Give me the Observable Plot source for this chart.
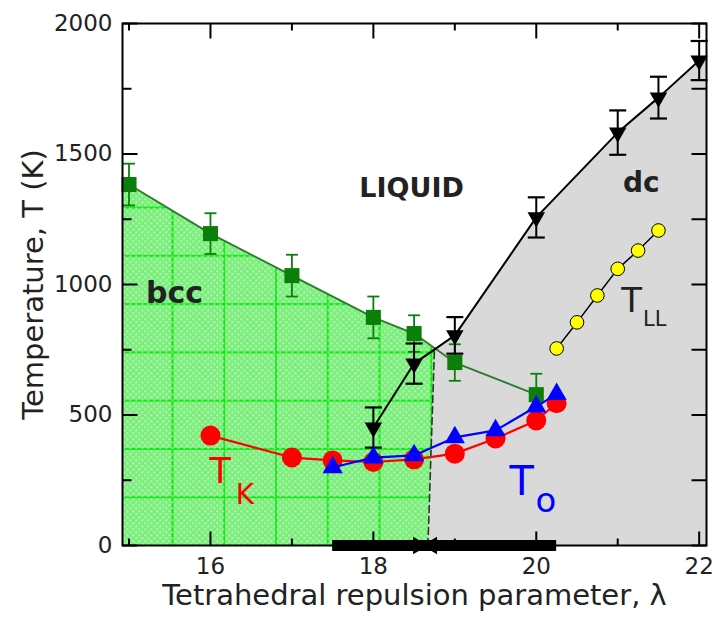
<!DOCTYPE html>
<html><head><meta charset="utf-8">
<script src="https://cdn.jsdelivr.net/npm/d3@7"></script>
<script src="https://cdn.jsdelivr.net/npm/@observablehq/plot@0.6"></script>
<style>body{margin:0;background:#fff;} svg{display:block;}</style>
</head><body><div id="chart"></div>
<script>
// ---- data ----
// bcc melting line (green squares)
const bccX = [15, 16, 17, 18, 18.5, 19, 20];
const bccT = [1383, 1195, 1034, 874, 812, 701, 578];
const bccErr = [80, 78, 80, 80, 70, 70, 80];
// dc melting line (black down-triangles)
const dcX = [18, 18.5, 19, 20, 21, 21.5, 22];
const dcT = [452, 697, 805, 1257, 1582, 1716, 1858];
const dcErr = [77, 77, 70, 77, 85, 80, 75];
// Kauzmann temperature T_K (red circles)
const tkX = [16, 17, 17.5, 18, 18.5, 19, 19.5, 20, 20.25];
const tkT = [421, 337, 326, 320, 330, 352, 410, 479, 545];
// T_o (blue triangles)
const toX = [17.5, 18, 18.5, 19, 19.5, 20, 20.25];
const toT = [299, 337, 345, 414, 441, 532, 580];
// liquid-liquid transition T_LL (yellow circles)
const tllX = [20.25, 20.5, 20.75, 21, 21.25, 21.5];
const tllT = [755, 855, 958, 1060, 1130, 1207];
// bcc/dc phase boundary (dashed), from T = 0 to the triple point
const boundaryX = [18.67, 18.75];
const boundaryT = [0, 754];
// glass-forming range marked on the lambda axis
const glassRange = [17.5, 20.25];
const glassMark = [18.55, 18.72];
// axes
const xDomain = [14.92, 22.09];
const yDomain = [0, 2000];
const xLabels = [16, 18, 20, 22];
const xMinor = [15, 17, 19, 21];
const yLabels = [0, 500, 1000, 1500, 2000];
const yMinor = [250, 750, 1250, 1750];
// region labels
const regionLabels = [
  {t: "LIQUID", x: 18.47, y: 1368, size: 27},
  {t: "bcc", x: 15.56, y: 966, size: 30},
  {t: "dc", x: 21.29, y: 1387, size: 28}
];

// ---- build tables ----
const bcc = bccX.map((x, i) => ({x, T: bccT[i], lo: bccT[i] - bccErr[i], hi: bccT[i] + bccErr[i]}));
const dc = dcX.map((x, i) => ({x, T: dcT[i], lo: dcT[i] - dcErr[i], hi: dcT[i] + dcErr[i]}));
const tk = tkX.map((x, i) => ({x, T: tkT[i]}));
const to = toX.map((x, i) => ({x, T: toT[i]}));
const tll = tllX.map((x, i) => ({x, T: tllT[i]}));
const boundary = boundaryX.map((x, i) => ({x, T: boundaryT[i]}));
const triple = boundary[boundary.length - 1];

// bcc region: left edge, bcc melting line up to the triple point, dashed boundary
const bccPoly = [
  {x: xDomain[0], T: 0},
  {x: xDomain[0], T: bccT[0] + (bccT[0] - bccT[1]) * (bccX[0] - xDomain[0])},
  ...bcc.filter(d => d.x < triple.x).map(d => ({x: d.x, T: d.T})),
  triple,
  boundary[0]
];
// dc region: dashed boundary, dc melting line, right edge
const dcPoly = [
  boundary[0],
  triple,
  ...dc.filter(d => d.x > triple.x).map(d => ({x: d.x, T: d.T})),
  {x: xDomain[1], T: dcT[dcT.length - 1] + (dcT[6] - dcT[5]) / (dcX[6] - dcX[5]) * (xDomain[1] - dcX[6])},
  {x: xDomain[1], T: 0}
];

// ---- custom symbols ----
const vTick = len => ({draw(ctx) { ctx.moveTo(0, 0); ctx.lineTo(0, len); }});
const hTick = len => ({draw(ctx) { ctx.moveTo(0, 0); ctx.lineTo(len, 0); }});
const cap = w => ({draw(ctx) { ctx.moveTo(-w, 0); ctx.lineTo(w, 0); }});

const green = "#0a800a";
const font = "'DejaVu Sans', 'Liberation Sans', Arial, sans-serif";

const chart = Plot.plot({
  width: 715, height: 628,
  marginLeft: 122, marginRight: 9, marginTop: 23, marginBottom: 83,
  x: {domain: xDomain, axis: null},
  y: {domain: yDomain, axis: null},
  style: {fontFamily: font, background: "white", color: "black"},
  marks: [
    // phase regions
    Plot.line(dcPoly, {x: "x", y: "T", fill: "#d9d9d9", stroke: "none"}),
    Plot.line(bccPoly, {x: "x", y: "T", fill: "url(#bccGrid)", stroke: "none"}),
    Plot.line(bccPoly, {x: "x", y: "T", fill: "url(#bccDots)", stroke: "none"}),
    Plot.line(boundary, {x: "x", y: "T", stroke: "#333", strokeWidth: 1.6, strokeDasharray: "7,4"}),
    // bcc melting
    Plot.line(bcc, {x: "x", y: "T", stroke: "#2d7a2d", strokeWidth: 1.8}),
    Plot.ruleX(bcc, {x: "x", y1: "lo", y2: "hi", stroke: green, strokeWidth: 1.8}),
    Plot.dot(bcc, {x: "x", y: "lo", symbol: cap(6), stroke: green, strokeWidth: 1.8, fill: "none"}),
    Plot.dot(bcc, {x: "x", y: "hi", symbol: cap(6), stroke: green, strokeWidth: 1.8, fill: "none"}),
    Plot.dot(bcc, {x: "x", y: "T", symbol: "square", r: 8.5, fill: green, stroke: "none"}),
    // dc melting
    Plot.line(dc, {x: "x", y: "T", stroke: "black", strokeWidth: 2}),
    Plot.ruleX(dc, {x: "x", y1: "lo", y2: "hi", stroke: "black", strokeWidth: 2}),
    Plot.dot(dc, {x: "x", y: "lo", symbol: cap(8.5), stroke: "black", strokeWidth: 2.2, fill: "none"}),
    Plot.dot(dc, {x: "x", y: "hi", symbol: cap(8.5), stroke: "black", strokeWidth: 2.2, fill: "none"}),
    Plot.dot(dc, {x: "x", y: "T", symbol: "triangle", rotate: 180, r: 6.5, fill: "black", stroke: "none"}),
    // T_K
    Plot.line(tk, {x: "x", y: "T", stroke: "#ff0000", strokeWidth: 2.2}),
    Plot.dot(tk, {x: "x", y: "T", r: 10, fill: "#ff0000", stroke: "none"}),
    // T_o
    Plot.line(to, {x: "x", y: "T", stroke: "#0000ff", strokeWidth: 2.2}),
    Plot.dot(to, {x: "x", y: "T", symbol: "triangle", r: 7.5, fill: "#0000ff", stroke: "none"}),
    // T_LL
    Plot.line(tll, {x: "x", y: "T", stroke: "black", strokeWidth: 1.5}),
    Plot.dot(tll, {x: "x", y: "T", r: 6.8, fill: "#ffff00", stroke: "black", strokeWidth: 1}),
    // glass-forming range bar
    Plot.ruleY([0], {x1: glassRange[0], x2: glassRange[1], y: d => d, stroke: "black", strokeWidth: 11}),
    Plot.dot(glassMark, {x: d => d, frameAnchor: "bottom", symbol: "triangle", rotate: (d, i) => i === 0 ? 90 : -90, r: 6.5, fill: "black"}),
    // frame and ticks
    Plot.frame({stroke: "black", strokeWidth: 2}),
    Plot.dot(xLabels, {x: d => d, frameAnchor: "bottom", symbol: vTick(-14), stroke: "black", strokeWidth: 2, fill: "none"}),
    Plot.dot(xMinor, {x: d => d, frameAnchor: "bottom", symbol: vTick(-7), stroke: "black", strokeWidth: 2, fill: "none"}),
    Plot.dot(xLabels, {x: d => d, frameAnchor: "top", symbol: vTick(15), stroke: "black", strokeWidth: 2, fill: "none"}),
    Plot.dot(xMinor, {x: d => d, frameAnchor: "top", symbol: vTick(7), stroke: "black", strokeWidth: 2, fill: "none"}),
    Plot.dot(yLabels, {y: d => d, frameAnchor: "left", symbol: hTick(15), stroke: "black", strokeWidth: 2, fill: "none"}),
    Plot.dot(yMinor, {y: d => d, frameAnchor: "left", symbol: hTick(9), stroke: "black", strokeWidth: 2, fill: "none"}),
    Plot.dot(yLabels.concat(yMinor), {y: d => d, frameAnchor: "right", symbol: hTick(-15), stroke: "black", strokeWidth: 2, fill: "none"}),
    // tick labels
    Plot.text(xLabels, {x: d => d, frameAnchor: "bottom", dy: 28, textAnchor: "middle", text: d => String(d), fontSize: 23, fill: "#222"}),
    Plot.text(yLabels, {y: d => d, frameAnchor: "left", dx: -10, textAnchor: "end", text: d => String(d), fontSize: 23, fill: "#222"}),
    // axis titles
    Plot.text(["Tetrahedral repulsion parameter, \u03bb"], {frameAnchor: "bottom", dy: 59, textAnchor: "middle", text: d => d, fontSize: 29, fill: "#222"}),
    Plot.text(["Temperature, T (K)"], {frameAnchor: "left", dx: -89, rotate: -90, textAnchor: "middle", text: d => d, fontSize: 29, fill: "#222"}),
    // region labels
    Plot.text(regionLabels, {x: "x", y: "y", text: "t", fontSize: d => d.size, fontWeight: "bold", fill: "#222"}),
    // T_LL label
    Plot.text(["T"], {x: 21.17, y: 935, text: d => d, fontSize: 34, fill: "#222"}),
    Plot.text(["LL"], {x: 21.31, y: 866, text: d => d, fontSize: 21, textAnchor: "start", fill: "#222"}),
    // T_K label
    Plot.text(["T"], {x: 16.12, y: 282, text: d => d, fontSize: 35, fill: "#ff0000"}),
    Plot.text(["K"], {x: 16.31, y: 195, text: d => d, fontSize: 28, textAnchor: "start", fill: "#ff0000"}),
    // T_o label
    Plot.text(["T"], {x: 19.82, y: 241, text: d => d, fontSize: 40, fill: "#0000ff"}),
    Plot.text(["o"], {x: 19.99, y: 169, text: d => d, fontSize: 34, textAnchor: "start", fill: "#0000ff"})
  ]
});

const ns = "http://www.w3.org/2000/svg";
const defs = document.createElementNS(ns, "defs");
defs.innerHTML = `
<pattern id="bccGrid" patternUnits="userSpaceOnUse" x="171" y="206" width="51.75" height="48.3">
  <rect width="51.75" height="48.3" fill="#7cee7c"/>
  <path d="M1,0V48.3M0,1H51.75" stroke="#14e814" stroke-width="2"/>
</pattern>
<pattern id="bccDots" patternUnits="userSpaceOnUse" width="6" height="6">
  <rect x="0" y="0" width="1.5" height="1.5" fill="#ffffff" opacity="0.75"/>
  <rect x="3" y="3" width="1.5" height="1.5" fill="#ffffff" opacity="0.75"/>
</pattern>`;
chart.insertBefore(defs, chart.firstChild);
document.getElementById("chart").appendChild(chart);
</script></body></html>
